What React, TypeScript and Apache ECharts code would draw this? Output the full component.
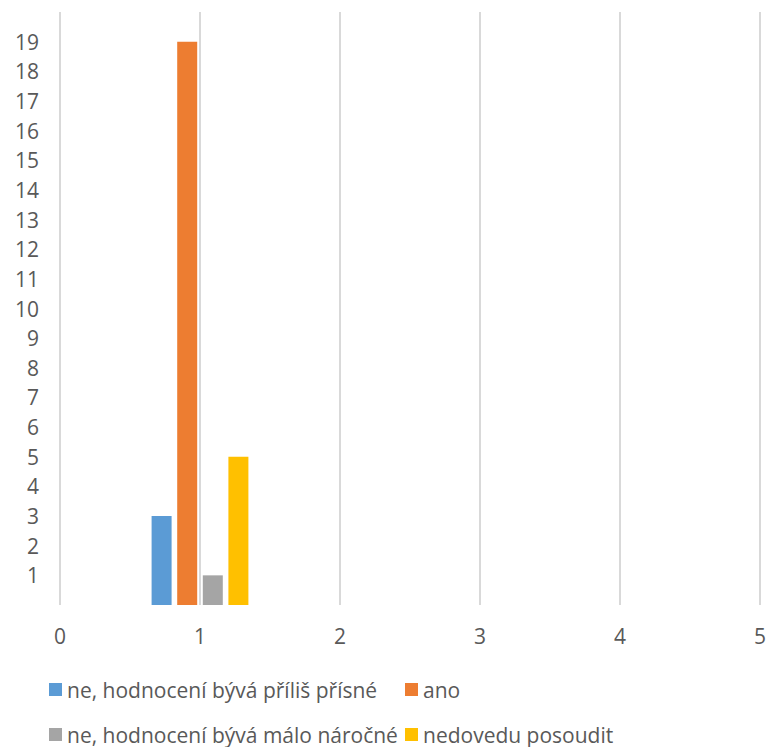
import React, { useEffect, useRef } from "react";
import * as echarts from "echarts";

const xPosition = 1;
const seriesNames = [
  "ne, hodnocení bývá příliš přísné",
  "ano",
  "ne, hodnocení bývá málo náročné",
  "nedovedu posoudit",
];
const seriesValues = [3, 19, 1, 5];
const seriesColors = ["#5B9BD5", "#ED7D31", "#A5A5A5", "#FFC000"];
const xTicks = [0, 1, 2, 3, 4, 5];
const yMax = 20;

export default function App() {
  const ref = useRef<HTMLDivElement>(null);
  useEffect(() => {
    if (!ref.current) return;
    const chart = echarts.init(ref.current, undefined, { renderer: "svg" });
    const font = "'Open Sans', sans-serif";
    const legendPlaces = [
      { left: 49, top: 679 },
      { left: 405, top: 679 },
      { left: 49, top: 724 },
      { left: 405, top: 724 },
    ];
    chart.setOption({
      animation: false,
      backgroundColor: "#ffffff",
      grid: { left: 60, right: 8, top: 12, bottom: 142 },
      legend: seriesNames.map((name, i) => ({
        icon: "rect",
        itemWidth: 13,
        itemHeight: 13,
        itemGap: 0,
        padding: 0,
        left: legendPlaces[i].left,
        top: legendPlaces[i].top,
        textStyle: { color: "#595959", fontSize: 21, fontFamily: font },
        selectedMode: false,
        data: [name],
      })),
      xAxis: {
        type: "value",
        min: xTicks[0],
        max: xTicks[xTicks.length - 1],
        interval: 1,
        axisLine: { show: false },
        axisTick: { show: false },
        splitLine: { show: true, lineStyle: { color: "#D9D9D9", width: 2 } },
        axisLabel: { color: "#595959", fontSize: 21, fontFamily: font, margin: 20 },
      },
      yAxis: {
        type: "value",
        min: 0,
        max: yMax,
        interval: 1,
        axisLine: { show: false },
        axisTick: { show: false },
        splitLine: { show: false },
        axisLabel: {
          color: "#595959",
          fontSize: 21,
          fontFamily: font,
          margin: 21,
          formatter: (v: number) => (v === 0 || v === yMax ? "" : String(v)),
        },
      },
      series: seriesNames.map((name, i) => ({
        type: "bar",
        name,
        barWidth: 20,
        barGap: "28%",
        itemStyle: { color: seriesColors[i] },
        data: [[xPosition, seriesValues[i]]],
      })),
    });
    return () => chart.dispose();
  }, []);
  return (
    <div
      ref={ref}
      style={{ position: "absolute", left: 0, top: 0, width: 769, height: 747 }}
    />
  );
}
